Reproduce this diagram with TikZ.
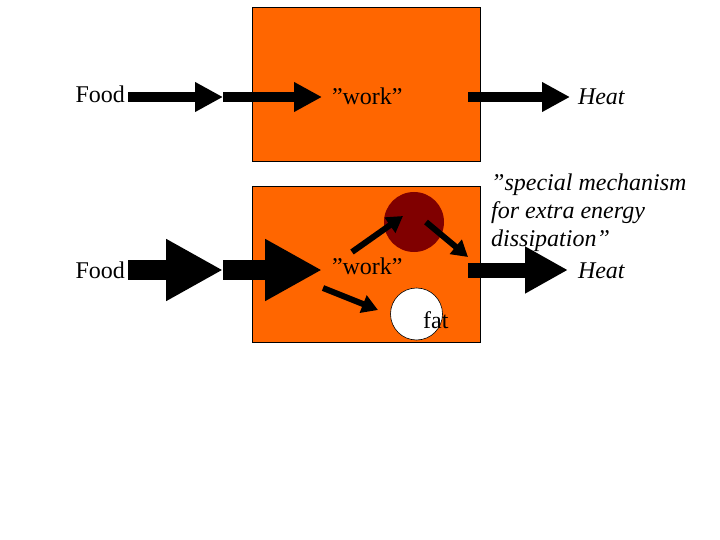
\documentclass[tikz,border=0pt]{standalone}
\usepackage{fontspec}
\setmainfont{Liberation Serif}
\usetikzlibrary{arrows.meta}
\definecolor{boxorange}{HTML}{FF6600}
\definecolor{darkred}{HTML}{800000}
\tikzset{
	lbl/.style={font=\fontsize{24}{28}\selectfont, inner sep=0pt, text height=16pt, text depth=4pt},
	box/.style={draw=black, line width=0.8pt, fill=boxorange},
	thinblock/.style={line width=10pt, -{Triangle[length=28pt, width=28pt]}},
	wideblock/.style={line width=20pt, -{Triangle[length=57pt, width=58pt]}},
	midblock/.style={line width=15pt, -{Triangle[length=43pt, width=44pt]}},
	smallarrow/.style={line width=6pt, -{Triangle[length=16pt, width=18pt]}}
}
\begin{document}
\begin{tikzpicture}[x=1pt, y=-1pt]
	\useasboundingbox (0,0) rectangle (720,540);
	\draw[box] (252,7) rectangle (480,161);
	\draw[box] (252,186) rectangle (480,342);
	\node[circle, fill=darkred, inner sep=0pt, minimum size=60pt] (mech) at (414,222) {};
	\node[circle, fill=white, draw=black, line width=0.6pt, inner sep=0pt, minimum size=52pt] (fat) at (416.5,314) {};
	\node[lbl, anchor=base west] (fattxt) at (423,328) {fat};

	\node[lbl, anchor=east, outer xsep=3pt] (food1) at (128,97) {Food};
	\node[lbl, anchor=west, outer xsep=10pt] (work1) at (322,99) {”work”};
	\node[lbl, anchor=west, outer xsep=8pt] (heat1) at (570,99) {\itshape Heat};
	\coordinate (f1) at (223,97);
	\coordinate (h1) at (468,97);
	\draw[thinblock] (food1.east |- f1) -- (f1);
	\draw[thinblock] (f1) -- (work1.west |- f1);
	\draw[thinblock] (h1) -- (heat1.west |- h1);

	\node[lbl, anchor=east, outer xsep=3pt] (food2) at (128,272) {Food};
	\node[lbl, anchor=west, outer xsep=10pt] (work2) at (322,268) {”work”};
	\node[lbl, anchor=west, outer xsep=10pt] (heat2) at (568,272) {\itshape Heat};
	\node[font=\fontsize{24}{28}\selectfont\itshape, inner sep=0pt, align=left, anchor=north west] (special) at (491,173.5) {”special mechanism\\for extra energy\\dissipation”};
	\coordinate (f2) at (223,270);
	\coordinate (h2) at (468,270);
	\draw[wideblock] (food2.east |- f2) -- (f2);
	\draw[wideblock] (f2) -- (work2.west |- f2);
	\draw[midblock] (h2) -- (heat2.west |- h2);

	\coordinate (a1) at (352,252);
	\coordinate (a2) at (403,216);
	\coordinate (b1) at (426,222);
	\coordinate (b2) at (468,257);
	\coordinate (c1) at (323,288);
	\coordinate (c2) at (378,310);
	\draw[smallarrow] (a1) -- (a2);
	\draw[smallarrow] (b1) -- (b2);
	\draw[smallarrow] (c1) -- (c2);
\end{tikzpicture}
\end{document}
